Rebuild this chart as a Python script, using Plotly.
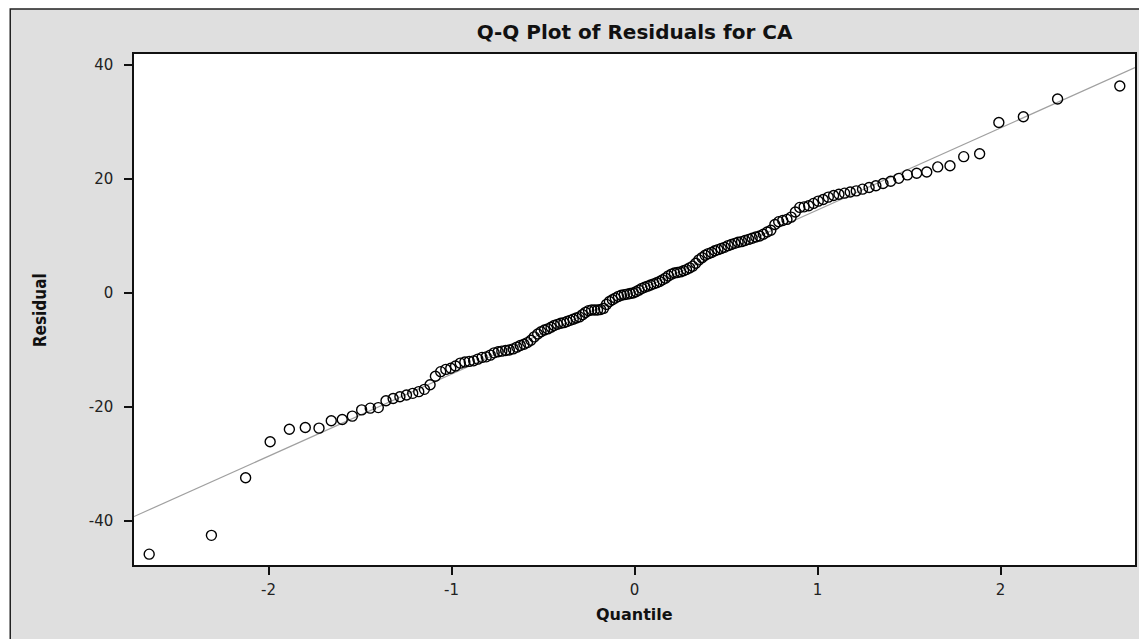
import plotly.graph_objects as go

# Theoretical normal quantiles (x) and sorted residuals (y)
quantiles_neg = [-2.652, -2.312, -2.125, -1.991, -1.886, -1.799, -1.724, -1.657, -1.597, -1.542,
                 -1.491, -1.444, -1.400, -1.358, -1.319, -1.282, -1.246, -1.212, -1.179, -1.148,
                 -1.117, -1.088, -1.059, -1.031, -1.004, -0.978, -0.952, -0.927, -0.903, -0.879,
                 -0.856, -0.833, -0.810, -0.788, -0.767, -0.745, -0.725, -0.704, -0.684, -0.663,
                 -0.643, -0.624, -0.604, -0.585, -0.566, -0.548, -0.529, -0.511, -0.492, -0.474,
                 -0.456, -0.439, -0.421, -0.403, -0.386, -0.369, -0.352, -0.335, -0.318, -0.301,
                 -0.284, -0.268, -0.251, -0.234, -0.218, -0.202, -0.185, -0.169, -0.153, -0.137,
                 -0.121, -0.105, -0.088, -0.072, -0.056, -0.040, -0.024, -0.008]
quantiles_pos = [0.008, 0.024, 0.040, 0.056, 0.072, 0.088, 0.105, 0.121, 0.137, 0.153,
                 0.169, 0.185, 0.202, 0.218, 0.234, 0.251, 0.268, 0.284, 0.301, 0.318,
                 0.335, 0.352, 0.369, 0.386, 0.403, 0.421, 0.439, 0.456, 0.474, 0.492,
                 0.511, 0.529, 0.548, 0.566, 0.585, 0.604, 0.624, 0.643, 0.663, 0.684,
                 0.704, 0.725, 0.745, 0.767, 0.788, 0.810, 0.833, 0.856, 0.879, 0.903,
                 0.927, 0.952, 0.978, 1.004, 1.031, 1.059, 1.088, 1.117, 1.148, 1.179,
                 1.212, 1.246, 1.282, 1.319, 1.358, 1.400, 1.444, 1.491, 1.542, 1.597,
                 1.657, 1.724, 1.799, 1.886, 1.991, 2.125, 2.312, 2.652]

residuals_neg = [-45.8, -42.5, -32.4, -26.1, -23.9, -23.6, -23.7, -22.4, -22.2, -21.6,
                 -20.5, -20.2, -20.1, -18.9, -18.5, -18.2, -17.9, -17.6, -17.3, -16.9,
                 -16.1, -14.6, -13.8, -13.4, -13.2, -12.8, -12.3, -12.1, -12.0, -11.9,
                 -11.6, -11.3, -11.2, -10.9, -10.5, -10.3, -10.2, -10.1, -10.0, -9.8,
                 -9.5, -9.2, -9.0, -8.7, -8.3, -7.7, -7.2, -6.8, -6.5, -6.3,
                 -6.0, -5.7, -5.5, -5.3, -5.2, -5.0, -4.8, -4.6, -4.4, -4.2,
                 -3.8, -3.4, -3.1, -3.0, -3.0, -3.0, -2.9, -2.7, -2.0, -1.5,
                 -1.2, -0.9, -0.6, -0.4, -0.3, -0.2, -0.1, 0.0]
residuals_pos = [0.2, 0.5, 0.8, 1.0, 1.2, 1.4, 1.6, 1.8, 2.0, 2.3,
                 2.6, 3.0, 3.3, 3.5, 3.6, 3.7, 3.9, 4.1, 4.4, 4.7,
                 5.2, 5.8, 6.2, 6.6, 6.9, 7.1, 7.4, 7.6, 7.8, 8.0,
                 8.3, 8.5, 8.7, 8.9, 9.0, 9.2, 9.4, 9.6, 9.8, 10.0,
                 10.3, 10.7, 11.0, 12.0, 12.5, 12.7, 12.9, 13.3, 14.2, 15.0,
                 15.1, 15.3, 15.7, 16.1, 16.4, 16.8, 17.1, 17.3, 17.5, 17.7,
                 17.9, 18.2, 18.5, 18.8, 19.2, 19.6, 20.1, 20.7, 21.0, 21.2,
                 22.1, 22.3, 23.9, 24.4, 29.9, 30.9, 34.0, 36.3]

quantiles = quantiles_neg + quantiles_pos
residuals = residuals_neg + residuals_pos

# Reference line parameters (intercept, slope)
ref_intercept = 0.15
ref_slope = 14.39

x_range = [-2.735, 2.735]
y_range = [-47.7, 41.9]
x_ticks = [-2, -1, 0, 1, 2]
x_ticklabels = ["-2", "-1", "0", "1", "2"]
y_ticks = [-40, -20, 0, 20, 40]
y_ticklabels = ["-40", "-20", "0", "20", "40"]

title_text = "Q-Q Plot of Residuals for CA"
x_title = "Quantile"
y_title = "Residual"

W, H = 1139, 631
ML, MR, MT, MB = 126, 10, 46, 74
PW, PH = W - ML - MR, H - MT - MB

fig = go.Figure()

fig.add_trace(go.Scatter(
    x=x_range,
    y=[ref_intercept + ref_slope * v for v in x_range],
    mode="lines",
    line=dict(color="#a0a0a0", width=1.2),
    hoverinfo="skip",
    showlegend=False,
))

fig.add_trace(go.Scatter(
    x=quantiles,
    y=residuals,
    mode="markers",
    marker=dict(symbol="circle-open", size=10, color="black", line=dict(width=1.4, color="black")),
    showlegend=False,
))

# gray outer panel with border
fig.add_shape(type="rect", xref="paper", yref="paper",
              x0=(2 - ML) / PW, x1=(W + 20 - ML) / PW,
              y0=-(MB + 20) / PH, y1=(PH + MT - 1) / PH,
              fillcolor="#dfdfdf", line=dict(color="#222222", width=1.5), layer="below")
fig.add_shape(type="rect", xref="x domain", yref="y domain",
              x0=0, x1=1, y0=0, y1=1,
              fillcolor="white", line=dict(width=0), layer="below")

fig.add_annotation(text="<b>" + x_title + "</b>", xref="paper", yref="paper",
                   x=(627 - ML) / PW, y=-(607 - (MT + PH)) / PH,
                   xanchor="center", yanchor="middle", showarrow=False,
                   font=dict(family="DejaVu Sans", size=16, color="#111111"))
fig.add_annotation(text="<b>" + y_title + "</b>", xref="paper", yref="paper",
                   x=(32 - ML) / PW, y=1 - (302 - MT) / PH,
                   xanchor="center", yanchor="middle", showarrow=False, textangle=-90,
                   font=dict(family="Liberation Sans Narrow, DejaVu Sans Condensed, sans-serif",
                             size=17, color="#111111"))

fig.update_layout(
    width=W, height=H,
    paper_bgcolor="white",
    plot_bgcolor="white",
    margin=dict(l=ML, r=MR, t=MT, b=MB),
    title=dict(text="<b>" + title_text + "</b>", x=0.5, xref="paper", xanchor="center",
               y=1 - 24 / H, yanchor="middle",
               font=dict(family="DejaVu Sans", size=20, color="#111111")),
    font=dict(family="DejaVu Sans", color="#333333"),
)

fig.update_xaxes(
    range=x_range, tickvals=x_ticks, ticktext=x_ticklabels,
    showgrid=False, zeroline=False,
    showline=True, mirror=True, linecolor="#111111", linewidth=1.5,
    ticks="outside", ticklen=8, tickwidth=1.5, tickcolor="#111111",
    ticklabelstandoff=2,
    tickfont=dict(family="DejaVu Sans", size=15, color="#222222"),
)
fig.update_yaxes(
    range=y_range, tickvals=y_ticks, ticktext=y_ticklabels,
    showgrid=False, zeroline=False,
    showline=True, mirror=True, linecolor="#111111", linewidth=1.5,
    ticks="outside", ticklen=8, tickwidth=1.5, tickcolor="#111111",
    ticklabelstandoff=8,
    tickfont=dict(family="DejaVu Sans", size=15, color="#222222"),
)

fig.write_html("out.html")
